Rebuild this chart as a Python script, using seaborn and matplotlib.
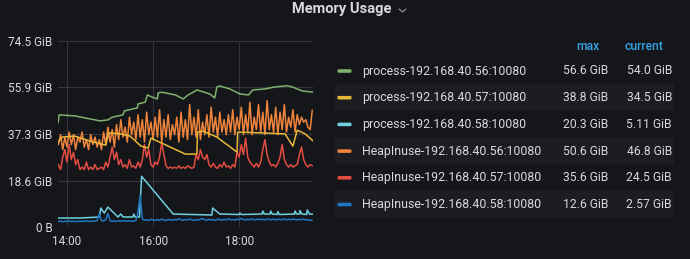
import numpy as np
import pandas as pd
import matplotlib
matplotlib.use("Agg")
import matplotlib.pyplot as plt
import matplotlib.dates as mdates
from matplotlib.patches import Rectangle, FancyBboxPatch
from matplotlib.lines import Line2D
import seaborn as sns

# ---------------- data ----------------
series_names = [
    "process-192.168.40.56:10080",
    "process-192.168.40.57:10080",
    "process-192.168.40.58:10080",
    "HeapInuse-192.168.40.56:10080",
    "HeapInuse-192.168.40.57:10080",
    "HeapInuse-192.168.40.58:10080",
]
series_colors = ["#7EB26D", "#EAB839", "#6ED0E0", "#EF843C", "#E24D42", "#1F78C1"]
max_labels = ["56.6 GiB", "38.8 GiB", "20.3 GiB", "50.6 GiB", "35.6 GiB", "12.6 GiB"]
current_labels = ["54.0 GiB", "34.5 GiB", "5.11 GiB", "46.8 GiB", "24.5 GiB", "2.57 GiB"]

y_ticks = [0, 18.6, 37.3, 55.9, 74.5]
y_tick_labels = ["0 B", "18.6 GiB", "37.3 GiB", "55.9 GiB", "74.5 GiB"]
x_tick_labels = ["14:00", "16:00", "18:00"]

# minutes relative to 14:00
green_min = [-12.6, -11, 11, 46, 57, 63, 78, 80, 98, 99, 109, 112, 119, 126, 127, 132,
             151, 162, 169, 179, 181, 199, 206, 209, 213, 227, 241, 253, 259, 276, 290,
             307, 314, 328, 343]
green_val = [41.6, 44.9, 44.5, 42.5, 42.9, 44.0, 44.9, 46.5, 47.7, 49.3, 50.0, 52.9, 52.0,
             51.3, 53.7, 54.0, 52.9, 51.3, 52.9, 54.5, 54.9, 53.3, 51.7, 56.1, 56.5, 55.3,
             53.3, 52.9, 54.9, 55.3, 56.1, 56.6, 56.1, 54.5, 54.0]

yellow_min = [-12.6, -7, 11, 32, 54, 58, 74, 88, 103, 113, 117, 132, 165, 181, 182, 190,
              209, 237, 238, 270, 304, 315, 321, 332, 343]
yellow_val = [34.0, 36.0, 36.4, 34.4, 32.8, 37.7, 37.3, 36.4, 32.4, 31.6, 35.6, 33.6, 29.2,
              29.2, 38.0, 38.4, 36.0, 30.0, 38.0, 37.7, 37.3, 32.4, 38.8, 37.3, 34.5]

cyan_min = [-12.6, 18, 45, 47, 52, 57, 71, 75, 78, 92, 93, 95, 101, 104, 148, 202, 203,
            213, 240, 241, 243, 272, 273, 275, 283, 284, 286, 293, 294, 296, 317, 318, 320,
            324, 325, 327, 334, 335, 338, 343]
cyan_val = [3.6, 3.6, 4.0, 7.6, 5.6, 8.0, 4.0, 5.2, 4.0, 4.0, 5.2, 4.0, 4.0, 20.3, 5.2,
            4.8, 7.6, 5.2, 5.0, 5.6, 5.0, 5.2, 6.4, 5.2, 5.2, 6.4, 5.2, 5.0, 6.2, 5.0, 5.2,
            6.4, 5.2, 5.2, 6.6, 5.2, 5.0, 6.8, 5.2, 5.11]

# 3-minute samples from 13:48 to 19:42 for the heap series
heap_orange = [33, 37, 31, 36, 32, 38, 33, 37, 31, 36, 34, 38, 32, 35, 31, 37, 33, 36, 32, 35,
               31, 38, 33, 40, 34, 39, 32, 41, 35, 43, 36, 40, 34, 44, 37, 42, 35, 45, 36, 43,
               34, 46, 37, 42, 35, 44, 36, 47, 34, 43, 36, 45, 35, 41, 37, 44, 34, 46, 36, 43,
               35, 49, 37, 44, 36, 47, 35, 42, 37, 45, 36, 48, 38, 44, 36, 46, 38, 43, 37, 45,
               38, 47, 37, 44, 39, 48, 37, 45, 38, 50, 37, 44, 39, 49, 38, 46, 37, 50.6, 39, 45,
               38, 48, 37, 46, 39, 49, 38, 44, 40, 47, 38, 45, 41, 44, 42, 43, 40, 39, 46.8]
heap_red = [25, 23, 28, 31, 26, 33, 27, 30, 25, 27, 23, 24, 23, 26, 23, 24, 23, 25, 23, 23.5,
            24, 23, 26, 24, 28, 32, 27, 30, 25, 27, 24, 25, 23.5, 27, 24, 24.5, 23.5, 26, 24, 27,
            33, 28, 31, 25, 24, 26, 25, 28, 33.6, 29, 24.5, 23.5, 24, 23.5, 24, 23.5, 24.5, 23.5,
            24, 23.5, 24.5, 24, 23.5, 24, 29, 27, 31, 28, 27, 29, 25, 24, 25.5, 24, 23.5, 25, 24,
            26, 24, 24.5, 23.5, 25, 24, 30, 28, 33, 29, 35.6, 28, 26, 25, 24, 25.5, 24, 26, 31,
            35, 29, 26, 24.5, 25, 24, 25.5, 28, 33, 27, 25, 24, 25, 24, 24.5, 25, 29, 32, 27, 25,
            24, 25, 24.5]
heap_blue = [2.2, 2.4, 2.1, 2.3, 2.2, 2.5, 2.2, 2.3, 2.1, 2.4, 2.2, 2.3, 2.2, 2.5, 2.3, 2.2,
             2.4, 2.3, 2.6, 5.2, 2.6, 2.4, 3.0, 5.4, 2.5, 2.3, 2.4, 2.2, 2.5, 2.3, 2.6, 2.4, 2.3,
             2.5, 2.3, 2.4, 2.6, 6.0, 12.6, 3.2, 2.7, 2.9, 2.6, 3.1, 2.8, 2.6, 3.0, 2.7, 3.2, 2.8,
             2.6, 3.0, 2.9, 2.7, 3.1, 2.8, 3.3, 2.9, 2.7, 3.0, 2.8, 3.2, 2.9, 2.6, 3.0, 2.8, 3.1,
             3.4, 2.9, 2.7, 3.1, 2.8, 3.0, 2.6, 3.2, 2.9, 2.7, 3.1, 2.8, 3.3, 2.9, 3.0, 2.7, 3.2,
             2.9, 3.4, 3.0, 2.8, 3.1, 2.9, 3.3, 2.8, 3.0, 3.2, 2.9, 3.1, 2.8, 3.3, 3.0, 2.9, 3.2,
             2.8, 3.1, 3.0, 2.9, 3.3, 2.8, 3.1, 2.9, 3.2, 3.0, 2.8, 3.1, 2.9, 3.2, 2.8, 3.0, 2.7,
             2.57]

# ---------------- build long table ----------------
base = pd.Timestamp("2021-01-01 14:00")
heap_times = pd.date_range("2021-01-01 13:48", periods=len(heap_orange), freq="3min")

def to_times(mins):
    return [base + pd.Timedelta(minutes=m) for m in mins]

frames = [
    pd.DataFrame({"time": to_times(green_min), "value": green_val, "series": series_names[0]}),
    pd.DataFrame({"time": to_times(yellow_min), "value": yellow_val, "series": series_names[1]}),
    pd.DataFrame({"time": to_times(cyan_min), "value": cyan_val, "series": series_names[2]}),
    pd.DataFrame({"time": heap_times, "value": heap_orange, "series": series_names[3]}),
    pd.DataFrame({"time": heap_times, "value": heap_red, "series": series_names[4]}),
    pd.DataFrame({"time": heap_times, "value": heap_blue, "series": series_names[5]}),
]
df = pd.concat(frames, ignore_index=True)

# ---------------- figure ----------------
BG = "#141619"
W, H = 690, 259
sns.set_theme(style="dark")
plt.rcParams["font.family"] = ["Roboto", "DejaVu Sans"]

fig = plt.figure(figsize=(W / 100, H / 100), dpi=100, facecolor=BG)

def fx(px):
    return px / W

def fy(py):
    return 1 - py / H

ax = fig.add_axes([fx(58), fy(227), fx(313) - fx(58), fy(41) - fy(227)])
ax.set_facecolor(BG)

# draw order: bottom first
order = [4, 3, 1, 0, 2, 5]
palette = {series_names[i]: series_colors[i] for i in range(6)}
sns.lineplot(data=df, x="time", y="value", hue="series", hue_order=[series_names[i] for i in order],
             palette=palette, estimator=None, sort=True, linewidth=1.1, legend=False, ax=ax)

ax.set_xlim(base + pd.Timedelta(minutes=-12.6), base + pd.Timedelta(minutes=343))
ax.set_ylim(0, 74.5)
ax.set_yticks(y_ticks)
ax.set_yticklabels(y_tick_labels)
ax.set_xticks(to_times([0, 120, 240]))
ax.set_xticklabels(x_tick_labels)
ax.set_xlabel("")
ax.set_ylabel("")
ax.grid(True, color="#34363b", linewidth=0.8)
ax.set_axisbelow(True)
for s in ax.spines.values():
    s.set_visible(False)
ax.tick_params(axis="both", colors="#c7d0d9", labelsize=8.5, length=0, pad=4)
ax.tick_params(axis="x", pad=6)
for lab in ax.get_xticklabels() + ax.get_yticklabels():
    lab.set_color("#d8d9da")

# ---------------- title ----------------
fig.text(fx(342), fy(9), "Memory Usage", ha="center", va="center", color="#d8d9da",
         fontsize=10.5, fontweight="bold")
fig.add_artist(Line2D([fx(399), fx(402.5), fx(406)], [fy(9), fy(12), fy(9)],
                      color="#8e8e8e", linewidth=0.9))

# ---------------- legend table ----------------
row_y = [71, 97.7, 124.4, 151.1, 177.8, 204.5]
row_h = 26.7
for i in range(6):
    if i % 2 == 1:
        fig.add_artist(Rectangle((fx(335), fy(row_y[i] + row_h / 2)), fx(674) - fx(335),
                                 fy(row_y[i] - row_h / 2) - fy(row_y[i] + row_h / 2),
                                 transform=fig.transFigure, facecolor="#1b1d21",
                                 edgecolor="none", zorder=0))
    fig.add_artist(FancyBboxPatch((fx(337.5), fy(row_y[i] + 1.8)), fx(14), fy(0) - fy(3.6),
                                  boxstyle="round,pad=0,rounding_size=0.003",
                                  transform=fig.transFigure, facecolor=series_colors[i],
                                  edgecolor="none"))
    fig.text(fx(362), fy(row_y[i]), series_names[i], ha="left", va="center",
             color="#d8d9da", fontsize=8.9)
    fig.text(fx(608), fy(row_y[i]), max_labels[i], ha="right", va="center",
             color="#d8d9da", fontsize=8.7)
    fig.text(fx(672), fy(row_y[i]), current_labels[i], ha="right", va="center",
             color="#d8d9da", fontsize=8.7)

fig.text(fx(588), fy(47), "max", ha="center", va="center", color="#33a2e5", fontsize=8.7,
         fontweight="medium")
fig.text(fx(644), fy(47), "current", ha="center", va="center", color="#33a2e5", fontsize=8.7,
         fontweight="medium")

fig.savefig("out.png", dpi=100, facecolor=BG)
